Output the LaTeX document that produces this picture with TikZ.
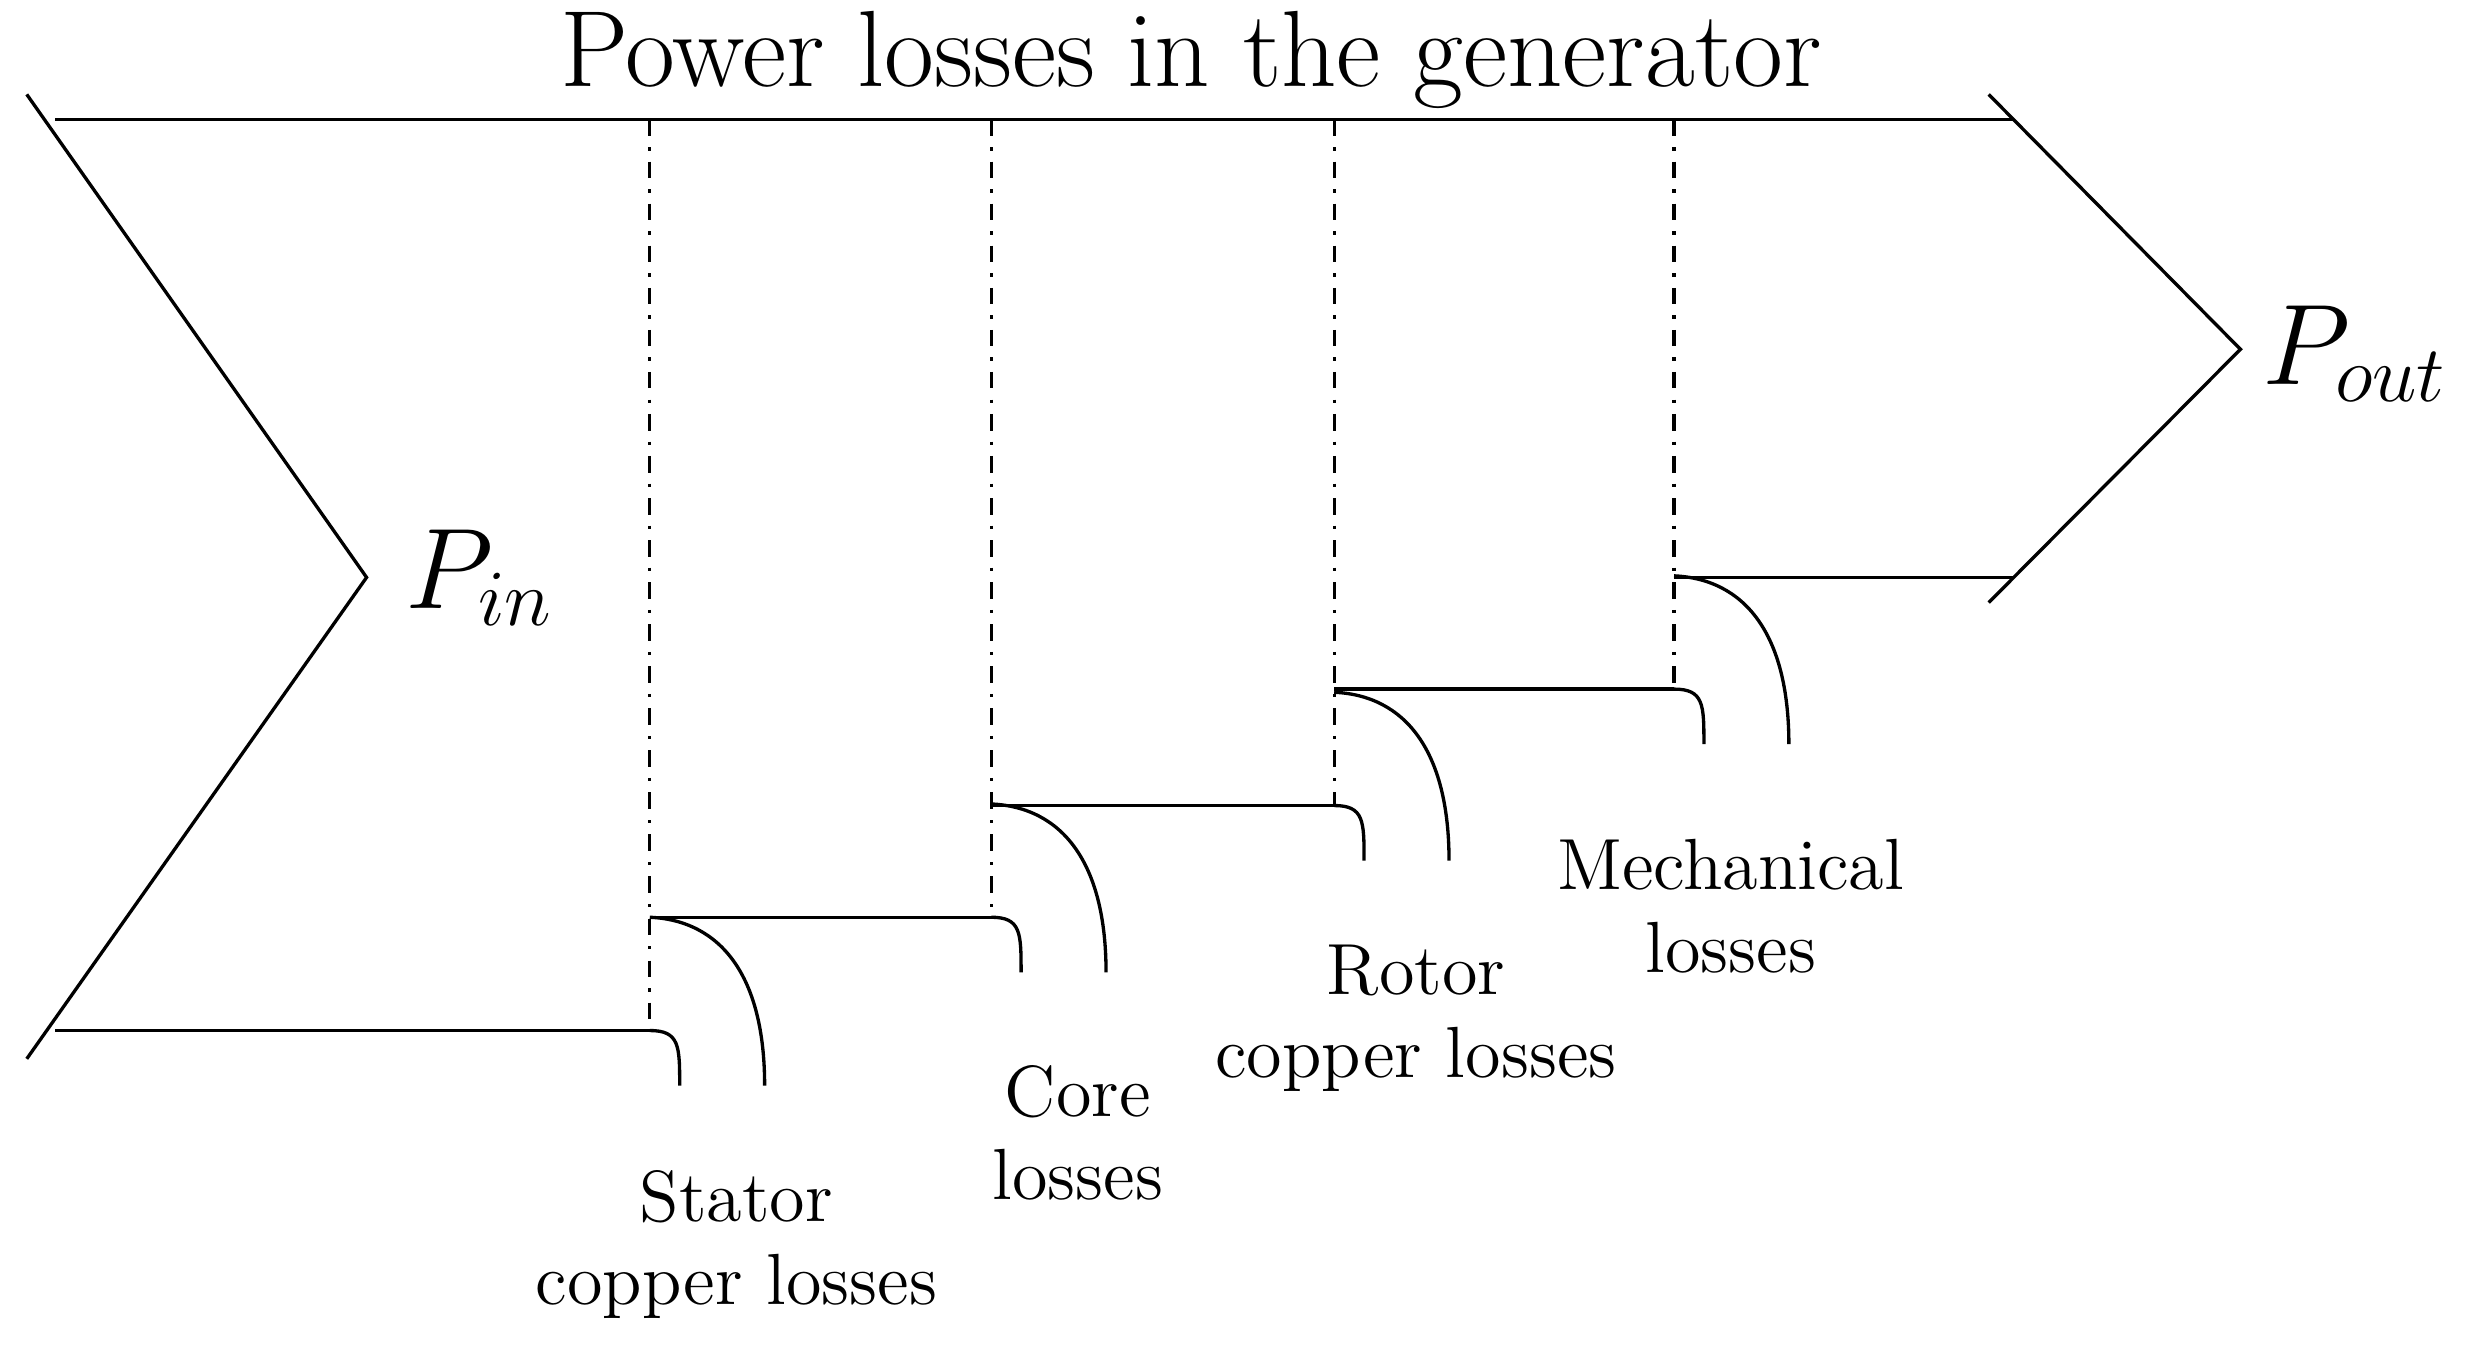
\documentclass[tikz,border=0pt]{standalone}
\begin{document}
\begin{tikzpicture}[x=0.01cm,y=-0.01cm,line width=0.6pt,
  lbl/.style={align=center,font=\fontsize{13.1}{15}\selectfont},
  sep/.style={dash dot}]
\useasboundingbox (0,0) rectangle (1568,858);
\node[font=\fontsize{19.6}{22}\selectfont] (title) at (757,38) {Power losses in the generator};
% chevron
\coordinate (l1) at (17,60); \coordinate (l2) at (233,367); \coordinate (l3) at (17,673);
\draw (l1) -- (l2) -- (l3);
\coordinate (t1) at (35,76); \coordinate (t2) at (1280,76);
\draw (t1) -- (t2);
\coordinate (r1) at (1264,60); \coordinate (r2) at (1424,222); \coordinate (r3) at (1264,383);
\draw (r1) -- (r2) -- (r3);
\node[font=\fontsize{21.2}{24}\selectfont] (pin) at (305,367) {$P_{in}$};
\node[font=\fontsize{21.2}{24}\selectfont] (pout) at (1497,225) {$P_{out}$};
% steps
\coordinate (b0) at (35,655);
\coordinate (s1) at (413,655); \coordinate (u1) at (413,583);
\coordinate (s2) at (630,583); \coordinate (u2) at (630,512);
\coordinate (s3) at (848,512); \coordinate (u3) at (848,438);
\coordinate (s4) at (1064,438); \coordinate (u4) at (1064,367);
\coordinate (e) at (1280,367);
\draw (b0) -- (s1); \draw (u1) -- (s2); \draw (u2) -- (s3); \draw (u3) -- (s4); \draw (u4) -- (e);
\foreach \x/\y in {413/655,630/583,848/512,1064/438}{
  \draw[sep] (\x,76) -- (\x,\y);
  \draw (\x,\y) .. controls (\x+19,\y) and (\x+19,\y+10) .. (\x+19,\y+35);
  \draw (\x,\y-72) .. controls (\x+45,\y-70) and (\x+73,\y-35) .. (\x+73,\y+35);
}
\node[lbl] (l1t) at (468,791) {Stator\\copper losses};
\node[lbl] (l2t) at (685,720) {Core\\losses};
\node[lbl] (l3t) at (900,647) {Rotor\\copper losses};
\node[lbl] (l4t) at (1100,576) {Mechanical\\losses};
\end{tikzpicture}
\end{document}
